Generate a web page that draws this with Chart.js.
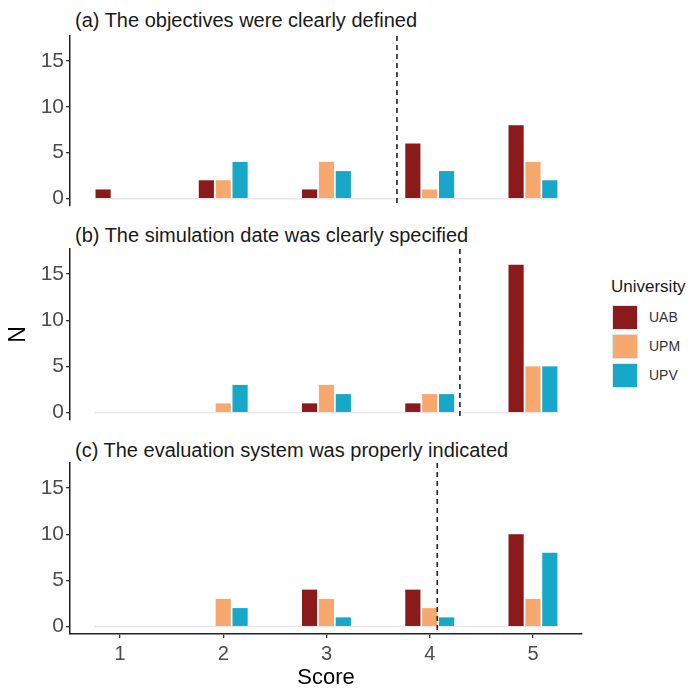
<!DOCTYPE html>
<html>
<head>
<meta charset="utf-8">
<script src="https://cdn.jsdelivr.net/npm/chart.js@4.4.1/dist/chart.umd.min.js"></script>
<style>
  body { margin: 0; background: #fff; font-family: "Liberation Sans", Arial, sans-serif; }
  #wrap { position: relative; width: 691px; height: 691px; overflow: hidden; }
  .panel { position: absolute; left: 0; width: 600px; }
  .ptitle { position: absolute; left: 75px; font-size: 20px; line-height: 24px; color: #1a1a1a; white-space: nowrap; }
  #legend { position: absolute; left: 611px; top: 276px; color: #1a1a1a; white-space: nowrap; }
  #legend .head { font-size: 17px; line-height: 22px; margin-bottom: 7px; }
  #legend .row { display: flex; align-items: center; height: 24px; margin-bottom: 5px; }
  #legend .key { width: 24px; height: 23px; border: 1px solid #e4e4e4; margin-left: 1px; margin-right: 11px; }
  #legend .lbl { font-size: 14px; color: #333; }
</style>
</head>
<body>
<div id="wrap">
  <div class="ptitle" style="top:8px">(a) The objectives were clearly defined</div>
  <canvas id="panelA" class="panel" style="top:30px" width="600" height="180"></canvas>
  <div class="ptitle" style="top:223px">(b) The simulation date was clearly specified</div>
  <canvas id="panelB" class="panel" style="top:243px" width="600" height="181"></canvas>
  <div class="ptitle" style="top:438px">(c) The evaluation system was properly indicated</div>
  <canvas id="panelC" class="panel" style="top:457px" width="600" height="234"></canvas>
  <div id="legend"></div>
</div>
<script>
// Likert scores and responding universities
const scores = [1, 2, 3, 4, 5];
const universities = ['UAB', 'UPM', 'UPV'];
const uniColors = ['#8b1a1a', '#f6a86e', '#16a7c9'];
const yTicks = [0, 5, 10, 15];

// Counts per score (1..5) for each university, one block per question
const objUAB = [1, 2, 1, 6, 8];
const objUPM = [0, 2, 4, 1, 4];
const objUPV = [0, 4, 3, 3, 2];

const dateUAB = [0, 0, 1, 1, 16];
const dateUPM = [0, 1, 3, 2, 5];
const dateUPV = [0, 3, 2, 2, 5];

const evalUAB = [0, 0, 4, 4, 10];
const evalUPM = [0, 3, 3, 2, 3];
const evalUPV = [0, 2, 1, 1, 8];

// mean score over all answers of one question
function meanScore(series) {
  let n = 0, sum = 0;
  scores.forEach((s, j) => {
    series.forEach(vals => { n += vals[j]; sum += s * vals[j]; });
  });
  return sum / n;
}

// zero baseline under the bar groups plus the dashed mean line
const refLines = {
  id: 'refLines',
  beforeDatasetsDraw(chart, args, opts) {
    const { ctx, scales: { x, y } } = chart;
    const y0 = y.getPixelForValue(0);
    ctx.save();
    ctx.strokeStyle = '#e6e7ec';
    ctx.lineWidth = 1.5;
    ctx.beginPath();
    ctx.moveTo(x.getPixelForValue(scores[0] - 0.245), y0);
    ctx.lineTo(x.getPixelForValue(scores[scores.length - 1] + 0.245), y0);
    ctx.stroke();
    ctx.restore();
  },
  afterDatasetsDraw(chart, args, opts) {
    const { ctx, chartArea, scales: { x } } = chart;
    const px = x.getPixelForValue(opts.mean);
    ctx.save();
    ctx.strokeStyle = '#222';
    ctx.lineWidth = 1.6;
    ctx.setLineDash([5, 4]);
    ctx.beginPath();
    ctx.moveTo(px, chartArea.top);
    ctx.lineTo(px, chartArea.bottom);
    ctx.stroke();
    ctx.restore();
  }
};

function makePanel(id, series, showX, showYTitle) {
  const datasets = series.map((vals, i) => ({
    label: universities[i],
    data: scores.map((s, j) => ({ x: s, y: vals[j] })),
    backgroundColor: uniColors[i],
    borderWidth: 0,
    barPercentage: 0.9,
    categoryPercentage: 0.49
  }));

  return new Chart(document.getElementById(id), {
    type: 'bar',
    data: { datasets: datasets },
    options: {
      responsive: false,
      animation: false,
      layout: { padding: { top: 6, bottom: showX ? 0 : 4, left: 0, right: 18 } },
      plugins: {
        legend: { display: false },
        tooltip: { enabled: false },
        refLines: { mean: meanScore(series) }
      },
      scales: {
        x: {
          type: 'linear',
          min: 0.516,
          max: 5.475,
          offset: false,
          display: showX,
          afterBuildTicks: s => { s.ticks = scores.map(v => ({ value: v })); },
          afterFit: s => { if (showX) s.height = 57; },
          grid: { offset: false, drawOnChartArea: false, drawTicks: true, tickLength: 4, tickColor: '#333', lineWidth: 1.3 },
          border: { display: true, color: '#222', width: 1.5 },
          ticks: { color: '#4d4d4d', font: { size: 20 }, padding: 4 },
          title: { display: true, text: 'Score', color: '#000', font: { size: 22 }, padding: 0 }
        },
        y: {
          min: -0.8,
          max: 17.7,
          afterBuildTicks: s => { s.ticks = yTicks.map(v => ({ value: v })); },
          // fixed axis width; tick labels sit inside the range, so no extra label padding
          afterFit: s => { s.width = 70; s.paddingTop = 0; s.paddingBottom = 0; },
          grid: { drawOnChartArea: false, drawTicks: true, tickLength: 4, tickColor: '#333', lineWidth: 1.3 },
          border: { display: true, color: '#222', width: 1.5 },
          ticks: { color: '#4d4d4d', font: { size: 21 }, padding: 2 },
          title: { display: showYTitle, text: 'N', color: '#000', font: { size: 23 }, padding: { top: 5, bottom: 0 } }
        }
      }
    },
    plugins: [refLines]
  });
}

makePanel('panelA', [objUAB, objUPM, objUPV], false, false);
makePanel('panelB', [dateUAB, dateUPM, dateUPV], false, true);
makePanel('panelC', [evalUAB, evalUPM, evalUPV], true, false);

// legend block on the right
const legend = document.getElementById('legend');
legend.innerHTML = '<div class="head">University</div>' + universities.map((u, i) =>
  '<div class="row"><div class="key" style="background:' + uniColors[i] + '"></div><span class="lbl">' + u + '</span></div>'
).join('');
</script>
</body>
</html>
